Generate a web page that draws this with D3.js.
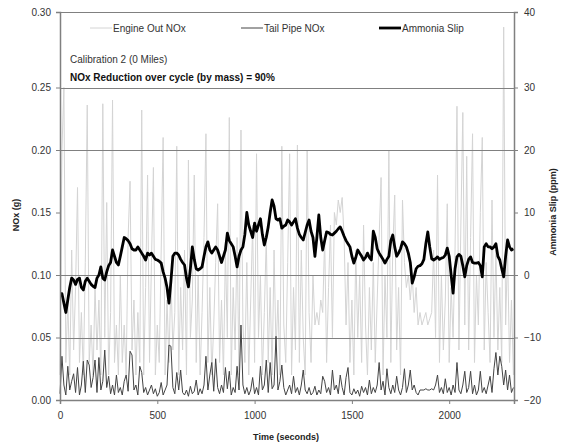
<!DOCTYPE html>
<html><head><meta charset="utf-8">
<script src="https://cdn.jsdelivr.net/npm/d3@7"></script>
<style>body{margin:0;background:#fff}svg{display:block;font-family:"Liberation Sans",Arial,sans-serif}</style>
</head><body>
<svg id="c" width="567" height="446"></svg>
<script>
// time step of all series: 10 s, starting at 0 s
const timeStep = 10;
const engineOutNOx = [
0.02,0.20,0.25,0.03,0.08,0.02,0.12,0.04,0.09,0.17,
0.03,0.07,0.02,0.11,0.236,0.03,0.06,0.02,0.09,0.04,
0.08,0.02,0.237,0.05,0.158,0.02,0.07,0.24,0.03,0.06,
0.02,0.10,0.03,0.06,0.02,0.13,0.175,0.04,0.08,0.02,
0.07,0.03,0.232,0.02,0.09,0.18,0.03,0.11,0.186,0.02,
0.06,0.03,0.12,0.21,0.02,0.08,0.03,0.10,0.04,0.07,
0.203,0.02,0.09,0.04,0.12,0.02,0.192,0.05,0.08,0.18,
0.03,0.10,0.02,0.07,0.13,0.213,0.03,0.09,0.02,0.06,
0.11,0.157,0.03,0.08,0.02,0.12,0.05,0.226,0.02,0.09,
0.04,0.13,0.02,0.216,0.06,0.03,0.11,0.02,0.08,0.14,
0.03,0.197,0.05,0.10,0.02,0.07,0.13,0.03,0.09,0.02,
0.12,0.04,0.08,0.02,0.203,0.06,0.03,0.11,0.197,0.02,
0.09,0.04,0.204,0.03,0.12,0.05,0.02,0.20,0.07,0.03,
0.10,0.06,0.07,0.06,0.08,0.07,0.13,0.03,0.09,0.14,
0.05,0.15,0.14,0.16,0.15,0.162,0.13,0.06,0.11,0.03,
0.08,0.02,0.12,0.05,0.10,0.03,0.14,0.06,0.02,0.09,
0.04,0.11,0.03,0.08,0.13,0.178,0.02,0.10,0.05,0.20,
0.03,0.12,0.164,0.04,0.09,0.02,0.16,0.11,0.09,0.10,
0.08,0.10,0.07,0.09,0.06,0.07,0.06,0.065,0.07,0.06,
0.065,0.07,0.12,0.05,0.18,0.03,0.10,0.04,0.08,0.157,
0.03,0.09,0.05,0.12,0.235,0.04,0.14,0.23,0.06,0.195,
0.04,0.13,0.213,0.03,0.10,0.06,0.15,0.21,0.04,0.11,
0.07,0.03,0.16,0.05,0.12,0.04,0.09,0.03,0.29,0.06,
0.12,0.03,0.08,0.02];
const tailPipeNOx = [
0.005,0.035,0.012,0.004,0.027,0.008,0.015,0.021,0.006,0.026,
0.004,0.012,0.031,0.006,0.032,0.028,0.01,0.018,0.032,0.006,
0.034,0.008,0.015,0.04,0.01,0.019,0.005,0.012,0.004,0.02,
0.006,0.01,0.004,0.015,0.02,0.007,0.039,0.036,0.008,0.012,
0.004,0.027,0.022,0.006,0.01,0.004,0.008,0.012,0.005,0.009,
0.003,0.006,0.014,0.004,0.008,0.012,0.044,0.043,0.01,0.005,
0.022,0.008,0.024,0.006,0.004,0.008,0.003,0.011,0.005,0.007,
0.016,0.004,0.009,0.005,0.012,0.035,0.008,0.02,0.03,0.007,
0.033,0.01,0.005,0.012,0.006,0.026,0.009,0.023,0.004,0.01,
0.006,0.027,0.008,0.06,0.012,0.005,0.01,0.004,0.008,0.018,
0.005,0.01,0.004,0.027,0.008,0.012,0.032,0.006,0.03,0.009,
0.012,0.051,0.008,0.015,0.028,0.01,0.004,0.008,0.012,0.005,
0.019,0.006,0.01,0.004,0.012,0.024,0.008,0.005,0.01,0.004,
0.006,0.011,0.004,0.008,0.005,0.019,0.015,0.006,0.01,0.004,
0.024,0.008,0.012,0.005,0.02,0.01,0.004,0.018,0.026,0.006,
0.004,0.009,0.005,0.008,0.003,0.011,0.006,0.01,0.004,0.016,
0.005,0.01,0.006,0.012,0.03,0.008,0.015,0.004,0.025,0.01,
0.005,0.012,0.006,0.019,0.008,0.004,0.01,0.025,0.006,0.012,
0.024,0.008,0.012,0.006,0.004,0.008,0.008,0.008,0.009,0.008,
0.008,0.009,0.008,0.012,0.02,0.006,0.01,0.005,0.017,0.006,
0.01,0.004,0.012,0.006,0.03,0.008,0.005,0.012,0.023,0.006,
0.01,0.023,0.005,0.012,0.004,0.008,0.023,0.006,0.01,0.005,
0.012,0.019,0.006,0.025,0.038,0.02,0.035,0.027,0.012,0.024,
0.008,0.02,0.006,0.01];
const ammoniaSlip = [
-3,-3,-4.5,-6,-4,-2,-0.5,-0.8,-1.5,-0.7,
-0.5,-2,-2.4,-1,-0.5,-1,-1.5,-1.8,-2,-0.5,
0,1.3,-0.5,-0.8,0.5,1.5,2,4,3,2,
1.6,3,4.5,6,5.8,5.5,5,4.2,4,4,
4.5,4,3.5,3,2.4,3.5,3.2,3.5,3,2.5,
2.4,2.2,1.9,0.5,-0.5,-2,-4.5,-1,3,3.5,
3.5,3.2,2.5,2,1.6,-0.5,-1.9,1,4.5,2.5,
1,0.8,1,1.3,3,4.5,5.3,4,3.5,4,
4.5,4,3,2,3,4,6.7,5.5,5,4.5,
3,1.3,3,4,4.5,6.5,10,8,7,6,
8.3,7,8,9,6.5,4.8,6,7.7,10,12,
11,9,8.8,9,7.5,7.8,8,8.8,8.5,8,
8.5,9,7.5,6.5,6,5.6,6.8,8,8.8,7,
6,3,6,9.6,6,4,5.5,6.9,6.8,6.5,
6.4,6.7,7,7.4,7.7,7,6.2,5.5,5,4.5,
3,1.9,2.8,4,3.5,3,2.4,2.8,3.5,2.8,
2.4,7,6,4.2,3.5,3,2.5,1.9,2.5,3,
5.5,6.4,4.5,3,3.5,4.2,5.3,5,4.5,3.5,
2,-1.3,-0.3,1,1.4,1.5,1.8,2.5,5,6.9,
4.5,2.6,2.4,2.6,2.9,2.5,2.7,2.8,3.2,4.3,
3,0,-2.9,1,2.9,3.3,3,1.5,-0.3,1.5,
2.5,2.9,2,1.9,1.9,2,1.5,-0.3,4.5,5,
4.5,4.5,4.2,4.5,5,3,2.4,1,-0.3,3,
5.6,4.5,4,4.2];
const noxTicks = [0,0.05,0.10,0.15,0.20,0.25,0.30];
const noxGrid = [0.05,0.10,0.20,0.25,0.30];
const ppmTicks = [-20,-10,0,10,20,30,40];
const timeTicks = [0,500,1000,1500,2000];
const timeMax = 2333;
const legendItems = ["Engine Out NOx","Tail Pipe NOx","Ammonia Slip"];
const note1 = "Calibration 2 (0 Miles)";
const note2 = "NOx Reduction over cycle (by mass) = 90%";

const svg = d3.select("#c");
const L = 60, R = 514, T = 12, B = 400;
const x = d3.scaleLinear().domain([0, timeMax]).range([L, R]);
const y = d3.scaleLinear().domain([0, 0.25, 0.30]).range([B, 87.5, T]);
const y2 = d3.scaleLinear().domain([-20, 30, 40]).range([B, 87.5, T]);
const gridCol = "#808080";

const lineNox = d3.line().x((d,i)=>x(i*timeStep)).y(d=>y(d));
const linePpm = d3.line().x((d,i)=>x(i*timeStep)).y(d=>y2(d));

svg.append("path").attr("d", lineNox(engineOutNOx)).attr("fill","none")
  .attr("stroke","#d4d4d4").attr("stroke-width",1);

svg.append("g").selectAll("line").data(noxGrid).join("line")
  .attr("x1",L).attr("x2",R).attr("y1",d=>Math.round(y(d))+0.5).attr("y2",d=>Math.round(y(d))+0.5)
  .attr("stroke",gridCol).attr("stroke-width",1);

svg.append("path").attr("d", lineNox(tailPipeNOx)).attr("fill","none")
  .attr("stroke","#444").attr("stroke-width",1);

svg.append("path").attr("d", linePpm(ammoniaSlip)).attr("fill","none")
  .attr("stroke","#000").attr("stroke-width",2.8).attr("stroke-linejoin","round");

// axes
const axL = svg.append("g").attr("transform",`translate(${L},0)`)
  .call(d3.axisLeft(y).tickValues(noxTicks).tickFormat(d3.format(".2f")).tickSize(4).tickPadding(5));
const axR = svg.append("g").attr("transform",`translate(${R},0)`)
  .call(d3.axisRight(y2).tickValues(ppmTicks).tickFormat(d3.format("d")).tickSize(4).tickPadding(6));
const axB = svg.append("g").attr("transform",`translate(0,${B})`)
  .call(d3.axisBottom(x).tickValues(timeTicks).tickFormat(d3.format("d")).tickSize(4).tickPadding(8));
[axL,axR,axB].forEach(a=>{
  a.select(".domain").attr("stroke",gridCol).attr("stroke-width",1.5);
  a.selectAll(".tick line").attr("stroke",gridCol);
  a.selectAll("text").attr("font-size",10).attr("fill","#333").attr("font-family","Liberation Sans, Arial, sans-serif");
});

// legend
const legX = [90, 241, 379];
const legColors = ["#d4d4d4","#444","#000"];
const legW = [1,1,2.8];
legendItems.forEach((t,i)=>{
  svg.append("line").attr("x1",legX[i]).attr("x2",legX[i]+22).attr("y1",28).attr("y2",28)
    .attr("stroke",legColors[i]).attr("stroke-width",legW[i]);
  svg.append("text").attr("x",legX[i]+23).attr("y",31.5).attr("font-size",10).attr("fill","#333").text(t);
});

svg.append("text").attr("x",70).attr("y",63).attr("font-size",10).attr("fill","#333").text(note1);
svg.append("text").attr("x",70).attr("y",81).attr("font-size",10).attr("font-weight","bold").attr("fill","#111").text(note2);

// axis titles
svg.append("text").attr("transform","translate(19,215) rotate(-90)").attr("text-anchor","middle")
  .attr("font-size",9).attr("font-weight","bold").attr("fill","#222").text("NOx (g)");
svg.append("text").attr("transform","translate(556,212) rotate(-90)").attr("text-anchor","middle")
  .attr("font-size",9).attr("font-weight","bold").attr("fill","#222").text("Ammonia Slip (ppm)");
svg.append("text").attr("x",286).attr("y",440).attr("text-anchor","middle")
  .attr("font-size",9).attr("font-weight","bold").attr("fill","#222").text("Time (seconds)");
</script>
</body></html>
